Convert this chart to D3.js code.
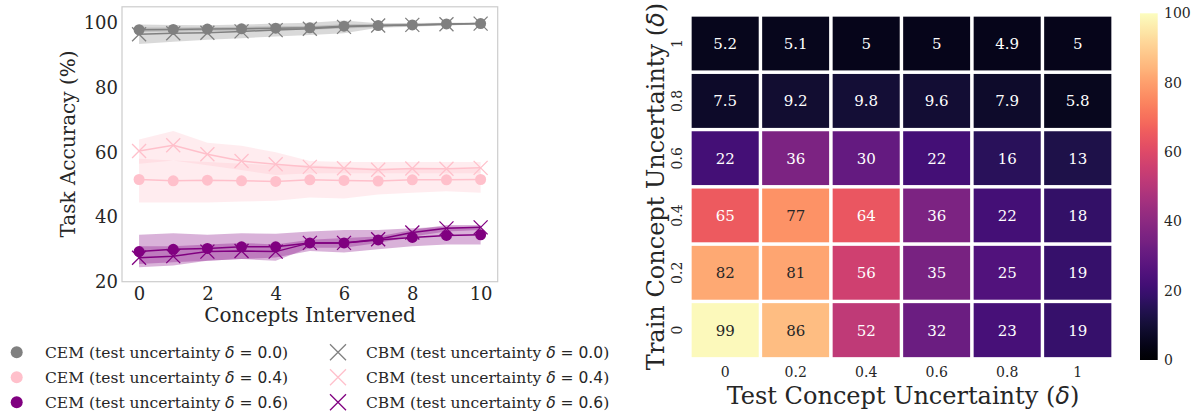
<!DOCTYPE html>
<html><head><meta charset="utf-8">
<script src="https://cdn.jsdelivr.net/npm/d3@7"></script>
<style>body{margin:0;background:#fff}svg{display:block}</style>
</head><body>
<svg id="c" width="1199" height="415"></svg>
<script>
// ---------- data ----------
const steps = [0,1,2,3,4,5,6,7,8,9,10];
const xTicks = [0,2,4,6,8,10];
const yTicks = [20,40,60,80,100];

const cem00 = [97.9,98.0,98.1,98.2,98.4,98.5,99.0,99.2,99.4,99.7,99.8];
const cem00Lo = [97.2,97.4,97.5,97.6,97.8,97.9,98.3,98.7,99.0,99.3,99.5];
const cem00Hi = [98.6,98.6,98.7,98.8,99.0,99.1,99.6,99.7,99.8,100.0,100.1];
const cbm00 = [96.5,96.8,97.0,97.4,97.8,98.2,98.8,99.2,99.4,99.6,99.8];
const cbm00Lo = [93.5,94.2,94.8,95.3,95.8,96.3,96.8,98.5,98.8,99.2,99.5];
const cbm00Hi = [99.5,99.4,99.3,99.5,99.8,100.1,100.8,99.9,100.0,100.1,100.1];

const cem04 = [51.6,51.2,51.4,51.2,51.0,51.5,51.3,51.1,51.5,51.5,51.6];
const cem04Lo = [44.5,44.5,44.5,44.8,45.0,46.0,45.7,47.0,47.5,48.0,47.5];
const cem04Hi = [58.0,57.5,57.0,56.5,56.0,56.0,55.5,55.0,55.0,55.0,55.0];
const cbm04 = [60.4,62.2,59.4,57.3,56.3,55.5,55.1,54.6,55.0,54.9,55.2];
const cbm04Lo = [56.5,57.5,56.0,54.5,53.0,53.5,53.5,53.5,53.5,53.5,53.5];
const cbm04Hi = [64.0,66.6,63.0,62.0,60.0,57.3,57.0,57.0,57.0,57.0,57.0];

const cem06 = [29.3,30.0,30.3,30.8,30.8,32.0,32.0,32.9,33.7,34.3,34.5];
const cem06Lo = [25.5,26.0,26.5,27.0,27.5,29.5,29.0,30.0,31.0,31.5,31.5];
const cem06Hi = [34.5,35.0,34.5,35.0,34.8,35.5,36.0,36.0,36.5,37.0,37.0];
const cbm06 = [27.4,27.9,29.3,29.5,29.3,32.0,32.0,33.1,35.2,36.5,36.8];
const cbm06Lo = [24.5,25.0,26.5,27.0,26.5,30.5,30.5,32.0,34.0,35.5,36.0];
const cbm06Hi = [31.0,31.0,31.5,32.0,31.5,33.0,33.5,34.0,36.0,37.5,37.5];

const seriesColors = ["#808080","#ffc0cb","#800080"];
const deltas = ["0.0","0.4","0.6"];

// heatmap
const testUnc = ["0","0.2","0.4","0.6","0.8","1"];
const trainUnc = ["1","0.8","0.6","0.4","0.2","0"]; // top to bottom
const heat = [
  [5.2,5.1,5,5,4.9,5],
  [7.5,9.2,9.8,9.6,7.9,5.8],
  [22,36,30,22,16,13],
  [65,77,64,36,22,18],
  [82,81,56,35,25,19],
  [99,86,52,32,23,19]
];
const cbTicks = [0,20,40,60,80,100];

// ---------- drawing ----------
const svg = d3.select("#c");
svg.append("rect").attr("width",1199).attr("height",415).attr("fill","#fff");
const TXT = "#262626";
const SERIF = "'DejaVu Serif', serif";
const SANS = "'DejaVu Sans', sans-serif";

// Left line chart
const x = d3.scaleLinear().domain([-0.5,10.5]).range([122,497.7]);
const y = d3.scaleLinear().domain([20,105]).range([281.7,6.8]);

const groups = [
  {c:seriesColors[0], cem:cem00, cemLo:cem00Lo, cemHi:cem00Hi, cbm:cbm00, cbmLo:cbm00Lo, cbmHi:cbm00Hi},
  {c:seriesColors[1], cem:cem04, cemLo:cem04Lo, cemHi:cem04Hi, cbm:cbm04, cbmLo:cbm04Lo, cbmHi:cbm04Hi},
  {c:seriesColors[2], cem:cem06, cemLo:cem06Lo, cemHi:cem06Hi, cbm:cbm06, cbmLo:cbm06Lo, cbmHi:cbm06Hi}
];
const area = (lo,hi) => d3.area().x((d,i)=>x(steps[i])).y0((d,i)=>y(lo[i])).y1((d,i)=>y(hi[i]))(steps);
const line = vals => d3.line().x((d,i)=>x(steps[i])).y((d,i)=>y(vals[i]))(steps);

const plot = svg.append("g");
groups.forEach(g=>{
  plot.append("path").attr("d",area(g.cemLo,g.cemHi)).attr("fill",g.c).attr("fill-opacity",0.3);
  plot.append("path").attr("d",area(g.cbmLo,g.cbmHi)).attr("fill",g.c).attr("fill-opacity",0.3);
});
function xMark(sel, cx, cy, h, color, sw){
  sel.append("path").attr("d",`M${cx-h},${cy-h}L${cx+h},${cy+h}M${cx-h},${cy+h}L${cx+h},${cy-h}`)
    .attr("stroke",color).attr("stroke-width",sw).attr("fill","none");
}
groups.forEach(g=>{
  plot.append("path").attr("d",line(g.cem)).attr("stroke",g.c).attr("stroke-width",1.5).attr("fill","none");
  g.cem.forEach((v,i)=>plot.append("circle").attr("cx",x(steps[i])).attr("cy",y(v)).attr("r",5.5).attr("fill",g.c));
  plot.append("path").attr("d",line(g.cbm)).attr("stroke",g.c).attr("stroke-width",1.5).attr("fill","none");
  g.cbm.forEach((v,i)=>xMark(plot,x(steps[i]),y(v),7,g.c,1.3));
});

// spines
svg.append("rect").attr("x",122).attr("y",6.8).attr("width",497.7-122).attr("height",281.7-6.8)
  .attr("fill","none").attr("stroke","#cccccc").attr("stroke-width",1.2);

// axes
const gx = svg.append("g").attr("transform","translate(0,281.7)")
  .call(d3.axisBottom(x).tickValues(xTicks).tickSize(0).tickPadding(5));
gx.select(".domain").remove();
gx.selectAll("text").attr("font-family",SERIF).attr("font-size",18).attr("fill",TXT).attr("dy","0.72em");
const gy = svg.append("g").attr("transform","translate(122,0)")
  .call(d3.axisLeft(y).tickValues(yTicks).tickSize(0).tickPadding(4));
gy.select(".domain").remove();
gy.selectAll("text").attr("font-family",SERIF).attr("font-size",18).attr("fill",TXT);

svg.append("text").attr("x",310).attr("y",321.5).attr("text-anchor","middle")
  .attr("font-family",SERIF).attr("font-size",20).attr("fill",TXT).text("Concepts Intervened");
svg.append("text").attr("transform","translate(75,144) rotate(-90)").attr("text-anchor","middle")
  .attr("font-family",SERIF).attr("font-size",20).attr("fill",TXT).text("Task Accuracy (%)");

// legend
const leg = svg.append("g");
const rowsY = [352.3,377.3,402.3];
function legText(xp, yp, model, d){
  const t = leg.append("text").attr("x",xp).attr("y",yp).attr("dy","0.36em")
    .attr("font-family",SERIF).attr("font-size",15.5).attr("fill",TXT);
  t.append("tspan").text(model+" (test uncertainty ");
  t.append("tspan").attr("font-family",SANS).attr("font-style","italic").text("δ");
  t.append("tspan").attr("font-family",SANS).text(" = "+d);
  t.append("tspan").text(")");
}
deltas.forEach((d,i)=>{
  leg.append("circle").attr("cx",16.7).attr("cy",rowsY[i]).attr("r",6).attr("fill",seriesColors[i]);
  legText(45,rowsY[i],"CEM",d);
  xMark(leg,338,rowsY[i],8,seriesColors[i],1.3);
  legText(366,rowsY[i],"CBM",d);
});

// Heatmap
const hx = d3.scaleBand().domain(testUnc).range([690,1113]);
const hy = d3.scaleBand().domain(trainUnc).range([15,358.8]);
const color = v => d3.interpolateMagma(v/100);
function lum(c){
  const r = d3.rgb(c);
  const f = u => { u/=255; return u<=0.03928? u/12.92 : Math.pow((u+0.055)/1.055,2.4); };
  return 0.2126*f(r.r)+0.7152*f(r.g)+0.0722*f(r.b);
}
const hm = svg.append("g");
heat.forEach((row,ri)=>row.forEach((v,ci)=>{
  const cx = hx(testUnc[ci]), cy = hy(trainUnc[ri]);
  const fc = color(v);
  hm.append("rect").attr("x",cx).attr("y",cy).attr("width",hx.bandwidth()).attr("height",hy.bandwidth())
    .attr("fill",fc).attr("stroke","#fff").attr("stroke-width",3.3);
  hm.append("text").attr("x",cx+hx.bandwidth()/2).attr("y",cy+hy.bandwidth()/2).attr("dy","0.36em")
    .attr("text-anchor","middle").attr("font-family",SERIF).attr("font-size",15)
    .attr("fill", lum(fc)>0.37 ? TXT : "#fff").text(String(v));
}));
// heatmap ticks
testUnc.forEach(t=>{
  svg.append("text").attr("x",hx(t)+hx.bandwidth()/2).attr("y",376.7).attr("text-anchor","middle")
    .attr("font-family",SERIF).attr("font-size",14).attr("fill",TXT).text(t);
});
trainUnc.forEach(t=>{
  svg.append("text").attr("transform",`translate(681.5,${hy(t)+hy.bandwidth()/2}) rotate(-90)`)
    .attr("text-anchor","middle").attr("font-family",SERIF).attr("font-size",14).attr("fill",TXT).text(t);
});
function labelDelta(sel, txt){
  sel.append("tspan").text(txt+" (");
  sel.append("tspan").attr("font-family",SANS).attr("font-style","italic").text("δ");
  sel.append("tspan").text(")");
}
labelDelta(svg.append("text").attr("x",903).attr("y",403.5).attr("text-anchor","middle")
  .attr("font-family",SERIF).attr("font-size",24).attr("fill",TXT), "Test Concept Uncertainty");
labelDelta(svg.append("text").attr("transform","translate(664,186.5) rotate(-90)").attr("text-anchor","middle")
  .attr("font-family",SERIF).attr("font-size",24).attr("fill",TXT), "Train Concept Uncertainty");

// Colorbar
const cbY = d3.scaleLinear().domain([0,100]).range([360,13.3]);
const defs = svg.append("defs");
const grad = defs.append("linearGradient").attr("id","cbg").attr("x1",0).attr("y1",1).attr("x2",0).attr("y2",0);
d3.range(0,1.0001,0.02).forEach(t=>grad.append("stop").attr("offset",t).attr("stop-color",d3.interpolateMagma(t)));
svg.append("rect").attr("x",1140).attr("y",13.3).attr("width",17.7).attr("height",360-13.3).attr("fill","url(#cbg)");
cbTicks.forEach(t=>{
  svg.append("text").attr("x",1164).attr("y",cbY(t)).attr("dy","0.36em")
    .attr("font-family",SERIF).attr("font-size",14).attr("fill",TXT).text(t);
});
</script>
</body></html>
